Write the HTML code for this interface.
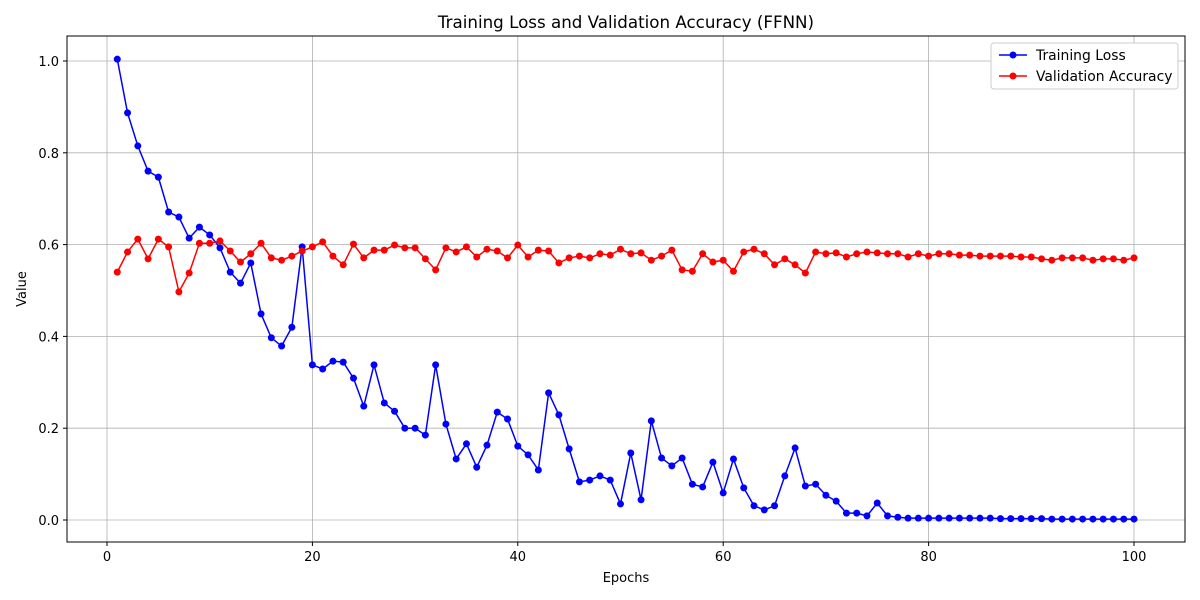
<!DOCTYPE html>
<html><head><meta charset="utf-8"><style>
html,body{margin:0;padding:0;background:#fff;}
svg{display:block;font-family:"DejaVu Sans","Liberation Sans",sans-serif;}
</style></head><body>
<svg id="chart" width="1200" height="600" viewBox="0 0 1200 600" xmlns="http://www.w3.org/2000/svg">
<rect width="1200" height="600" fill="#fff"/>
<text x="626" y="28" font-size="16.7" text-anchor="middle" fill="#000">Training Loss and Validation Accuracy (FFNN)</text>
<g id="grid"></g><g id="axes"></g><g id="series"></g>
<text x="626" y="582" font-size="13" text-anchor="middle">Epochs</text>
<text x="26" y="289" font-size="13" text-anchor="middle" transform="rotate(-90 26 289)">Value</text>
<g>
<rect x="991" y="43" width="187" height="46" fill="#fff" stroke="#ccc" rx="3"/>
<line x1="999" y1="55" x2="1027" y2="55" stroke="#0000ff" stroke-width="1.5"/><circle cx="1013" cy="55" r="3.5" fill="#0000ff"/>
<text x="1036" y="60" font-size="13.9">Training Loss</text>
<line x1="999" y1="76" x2="1027" y2="76" stroke="#ff0000" stroke-width="1.5"/><circle cx="1013" cy="76" r="3.5" fill="#ff0000"/>
<text x="1036" y="81" font-size="13.9">Validation Accuracy</text>
</g>
</svg>
<script>
const trainLoss=[1.004,0.887,0.815,0.760,0.747,0.671,0.660,0.614,0.638,0.621,0.593,0.540,0.516,0.560,0.449,0.397,0.379,0.420,0.595,0.338,0.329,0.346,0.344,0.309,0.248,0.338,0.255,0.237,0.200,0.200,0.185,0.338,0.209,0.133,0.166,0.115,0.163,0.235,0.220,0.161,0.142,0.109,0.277,0.229,0.155,0.083,0.087,0.096,0.087,0.035,0.146,0.044,0.216,0.135,0.118,0.135,0.078,0.072,0.126,0.059,0.133,0.070,0.031,0.022,0.031,0.096,0.157,0.074,0.078,0.054,0.041,0.015,0.015,0.009,0.037,0.009,0.006,0.004,0.004,0.004,0.004,0.004,0.004,0.004,0.004,0.004,0.003,0.003,0.003,0.003,0.003,0.002,0.002,0.002,0.002,0.002,0.002,0.002,0.002,0.002];
const valAcc=[0.540,0.584,0.612,0.569,0.612,0.595,0.497,0.538,0.603,0.603,0.608,0.586,0.562,0.580,0.603,0.571,0.566,0.575,0.586,0.595,0.606,0.575,0.556,0.601,0.571,0.588,0.588,0.599,0.593,0.593,0.569,0.545,0.593,0.584,0.595,0.573,0.590,0.586,0.571,0.599,0.573,0.588,0.586,0.560,0.571,0.575,0.571,0.580,0.577,0.590,0.580,0.582,0.566,0.575,0.588,0.545,0.542,0.580,0.562,0.566,0.542,0.584,0.590,0.580,0.556,0.569,0.556,0.538,0.584,0.580,0.582,0.573,0.580,0.584,0.582,0.580,0.580,0.573,0.580,0.575,0.580,0.580,0.577,0.577,0.575,0.575,0.575,0.575,0.573,0.573,0.569,0.566,0.571,0.571,0.571,0.566,0.569,0.569,0.566,0.571];
const xTicks=[0,20,40,60,80,100];
const yTicks=[0.0,0.2,0.4,0.6,0.8,1.0];
const NS="http://www.w3.org/2000/svg";
const X=v=>107+v*10.27, Y=v=>520-v*459;
function mk(t,a,p){const e=document.createElementNS(NS,t);for(const k in a)e.setAttribute(k,a[k]);p.appendChild(e);return e;}
const grid=document.getElementById('grid'),axes=document.getElementById('axes'),ser=document.getElementById('series');
xTicks.forEach(v=>{
 const l=mk('line',{x1:X(v),x2:X(v),y1:36,y2:542,stroke:'#b0b0b0','stroke-width':0.8},grid);
 
 
 mk('line',{x1:X(v),x2:X(v),y1:542,y2:546,stroke:'#000'},axes);
 const t=mk('text',{x:X(v),y:561,'font-size':13,'text-anchor':'middle'},axes);t.textContent=v;
 
 
});
yTicks.forEach(v=>{
 const l=mk('line',{x1:67,x2:1185,y1:Y(v),y2:Y(v),stroke:'#b0b0b0','stroke-width':0.8},grid);
 
 
 mk('line',{x1:63,x2:67,y1:Y(v),y2:Y(v),stroke:'#000'},axes);
 const t=mk('text',{x:59,y:Y(v)+5,'font-size':13,'text-anchor':'end'},axes);t.textContent=v.toFixed(1);
 
 
});
const frame=mk('rect',{x:67,y:36,width:1118,height:506,fill:'none',stroke:'#000','stroke-width':1},axes);


function draw(data,color,name){
 const pts=data.map((v,i)=>X(i+1)+','+Y(v)).join(' ');
 const pl=mk('polyline',{points:pts,fill:'none',stroke:color,'stroke-width':1.5},ser);
 
 
 data.forEach((v,i)=>{const c=mk('circle',{cx:X(i+1),cy:Y(v),r:3.5,fill:color},ser);
 
 });
}
draw(trainLoss,'#0000ff','training-loss');
draw(valAcc,'#ff0000','validation-accuracy');
</script>
</body></html>
